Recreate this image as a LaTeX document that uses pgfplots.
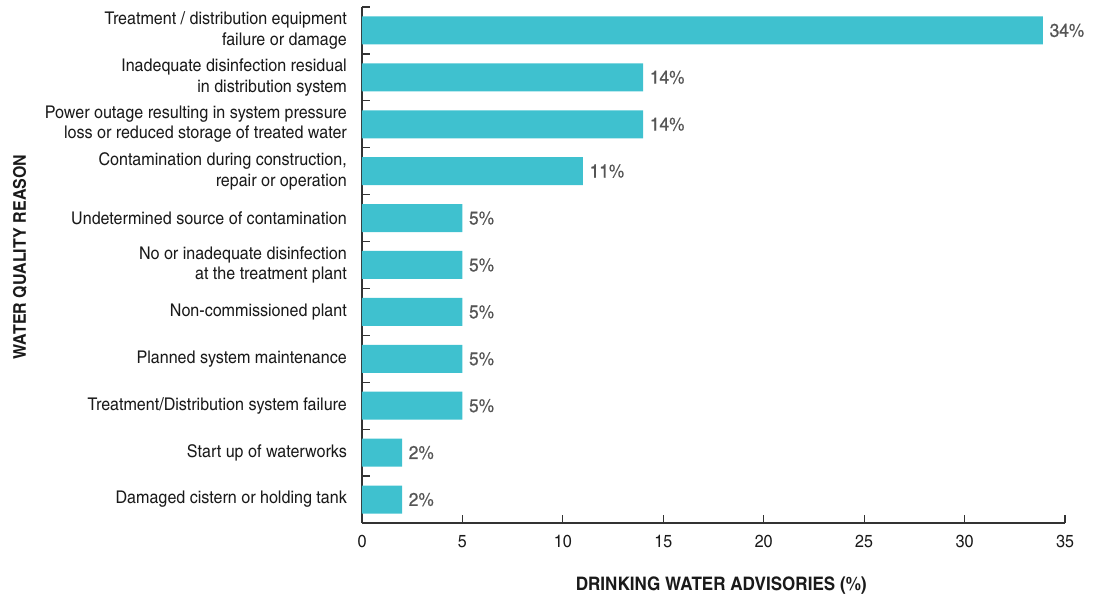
\documentclass[border=0pt]{standalone}
\usepackage{fontspec}
\setmainfont{TeX Gyre Heros Cn}[FakeStretch=1.12]
\newfontfamily\valfont{TeX Gyre Heros Cn}[FakeStretch=1.14, FakeBold=0.7]
\usepackage{pgfplots}
\pgfplotsset{compat=1.18}
\usepackage{pgfplotstable}
\definecolor{barc}{HTML}{3FC1CF}
\definecolor{valc}{HTML}{555555}
\definecolor{axc}{HTML}{333333}
\definecolor{txc}{HTML}{1A1A1A}

\pgfplotstableread[col sep=comma]{
y,v,lab
10,33.9,34
9,14,14
8,14,14
7,11,11
6,5,5
5,5,5
4,5,5
3,5,5
2,5,5
1,2,2
0,2,2
}\data

\begin{document}
\begin{tikzpicture}
\useasboundingbox (-362pt,-73pt) rectangle (740pt,523pt);
\begin{axis}[
  at={(0,0)}, anchor=south west,
  scale only axis, width=703pt, height=516pt,
  xbar, bar width=28pt,
  xmin=0, xmax=35, ymin=-0.5, ymax=10.5,
  axis x line*=bottom, axis y line*=left,
  axis line style={axc, line width=1.4pt},
  tick align=inside, major tick length=8pt,
  tick style={axc, line width=1.2pt},
  xtick={0,5,...,35},
  ytick={0.5,1.5,...,10.5},
  yticklabels={,,,,,,,,,,,},
  extra y ticks={0,1,2,3,4,5,6,7,8,9,10},
  extra y tick style={major tick length=0pt},
  extra y tick labels={
    Damaged cistern or holding tank,
    Start up of waterworks,
    Treatment/Distribution system failure,
    Planned system maintenance,
    Non-commissioned plant,
    {No or inadequate disinfection\\at the treatment plant},
    Undetermined source of contamination,
    {Contamination during construction,\\repair or operation},
    {Power outage resulting in system pressure\\loss or reduced storage of treated water},
    {Inadequate disinfection residual\\in distribution system},
    {Treatment / distribution equipment\\failure or damage}},
  /pgf/number format/assume math mode=true,
  ticklabel style={font=\fontsize{17.5}{20.5}\selectfont, text=txc},
  yticklabel style={align=right, inner sep=0pt, xshift=-15pt},
  xticklabel style={inner sep=0pt, yshift=-12pt},
  xlabel={DRINKING WATER ADVISORIES (\%)},
  xlabel style={at={(axis description cs:0.511,-0.104)}, anchor=north, inner sep=0pt,
    font=\fontsize{18.6}{20}\selectfont\bfseries, text=txc},
  ylabel={WATER QUALITY REASON},
  ylabel style={at={(axis description cs:-0.4865,0.5155)}, anchor=center, inner sep=0pt,
    font=\fontsize{17.5}{20}\selectfont\bfseries, text=txc},
  point meta=explicit symbolic,
  nodes near coords={\pgfplotspointmeta\%},
  every node near coord/.style={anchor=west, inner sep=0pt, xshift=6.5pt,
    font=\fontsize{18.5}{20}\valfont, text=valc},
  clip=false,
]
\addplot[fill=barc, draw=none] table[x=v, y=y, meta=lab]{\data};
\end{axis}
\end{tikzpicture}
\end{document}
